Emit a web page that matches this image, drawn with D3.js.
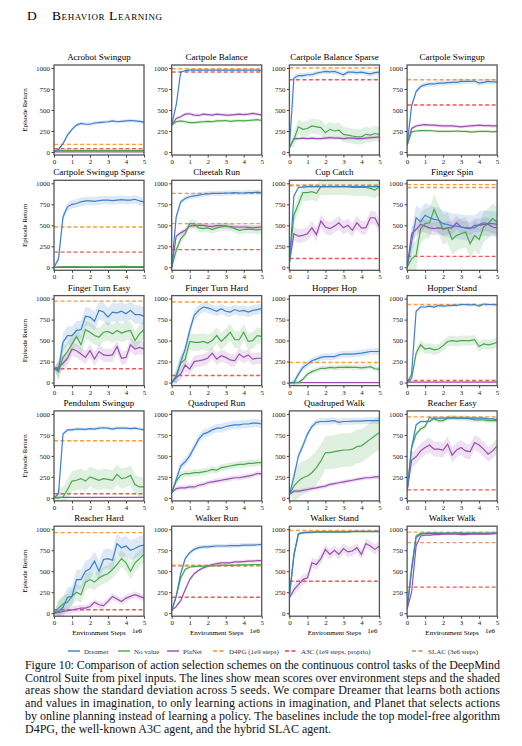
<!DOCTYPE html>
<html><head><meta charset="utf-8">
<script src="https://cdn.jsdelivr.net/npm/d3@7"></script>
<style>body{margin:0;background:#fff}svg text{font-family:"Liberation Serif",serif;font-weight:normal}</style>
</head><body><svg id="c" width="522" height="746" font-family="Liberation Serif"></svg>
<script>
const titles=["Acrobot Swingup","Cartpole Balance","Cartpole Balance Sparse","Cartpole Swingup","Cartpole Swingup Sparse","Cheetah Run","Cup Catch","Finger Spin","Finger Turn Easy","Finger Turn Hard","Hopper Hop","Hopper Stand","Pendulum Swingup","Quadruped Run","Quadruped Walk","Reacher Easy","Reacher Hard","Walker Run","Walker Stand","Walker Walk"];
const steps=[0,0.25,0.5,0.75,1,1.25,1.5,1.75,2,2.25,2.5,2.75,3,3.25,3.5,3.75,4,4.25,4.5,4.75,5];
const yTicks=[0,250,500,750,1000];
const xTicks=[0,1,2,3,4,5];
const dreamer=[
[0,30,100,200,270,320,340,330,330,345,350,355,360,370,360,365,370,375,370,365,355],
[320,560,950,970,975,975,975,975,975,975,975,975,975,975,975,975,975,975,975,975,970],
[50,880,910,910,920,920,940,950,960,955,960,940,920,950,950,945,950,940,930,945,950],
[80,550,720,780,800,810,810,820,820,825,830,830,840,840,840,845,820,830,840,835,835],
[0,100,600,720,750,760,780,790,790,785,795,800,800,795,800,805,800,800,810,790,780],
[0,600,780,820,840,850,860,870,875,880,880,880,885,885,890,885,885,890,890,895,890],
[50,850,950,955,960,960,960,960,960,960,960,960,960,960,960,960,960,960,960,960,960],
[0,300,590,540,620,590,570,560,520,510,490,490,480,470,470,470,510,530,520,520,510],
[170,150,480,560,560,620,630,790,780,730,860,840,780,840,830,850,820,860,810,810,790],
[0,70,250,400,620,800,860,900,890,870,850,880,850,840,870,850,860,840,860,870,880],
[0,0,100,180,220,260,280,300,310,310,310,330,340,340,340,345,350,360,370,370,370],
[0,100,850,900,900,910,900,920,910,915,920,920,930,930,925,930,910,935,930,930,925],
[0,50,760,810,810,820,820,815,825,820,830,835,830,820,830,830,830,825,830,820,810],
[60,220,380,430,500,600,700,760,780,810,830,830,850,860,870,870,880,880,890,890,880],
[40,250,500,620,760,850,900,910,910,915,920,900,910,910,915,915,915,920,920,920,920],
[80,600,870,910,910,910,950,950,950,950,950,950,950,950,950,950,950,950,940,940,930],
[0,20,70,190,200,400,400,500,530,620,500,640,650,630,830,780,800,750,770,800,810],
[30,200,470,650,720,760,780,790,790,795,800,800,800,805,805,805,810,810,810,815,820],
[200,700,950,960,965,965,970,970,970,970,970,970,970,970,975,975,975,975,975,975,975],
[50,500,900,940,950,950,950,950,950,950,950,955,950,950,950,950,950,950,950,955,955]];
const noValue=[
[20,20,20,20,20,20,20,20,20,20,20,20,20,20,20,20,20,20,20,20,20],
[320,360,370,360,350,350,355,360,365,360,370,370,375,365,370,375,370,375,380,385,375],
[50,150,300,270,280,310,300,290,230,270,250,260,210,200,190,180,180,210,200,220,210],
[80,240,250,255,255,255,250,245,245,245,245,250,245,245,240,240,245,245,245,240,245],
[0,5,8,8,8,8,6,5,5,5,5,6,8,8,8,10,10,8,8,8,8],
[0,200,340,400,520,520,470,460,470,450,470,480,490,480,460,440,450,455,450,445,450],
[50,620,750,890,890,900,880,960,960,960,960,960,960,960,950,950,950,950,940,920,960],
[0,100,140,460,520,530,690,570,450,470,330,380,400,420,280,380,330,480,520,580,540],
[170,130,300,370,460,550,450,630,600,560,540,600,610,580,620,590,610,620,500,580,630],
[0,80,230,280,490,480,480,490,470,500,560,490,540,600,510,510,600,490,500,560,550],
[0,0,0,40,100,130,150,170,170,180,175,180,180,185,180,180,175,180,190,165,160],
[0,50,350,450,400,410,390,400,440,490,500,490,500,500,500,510,430,460,450,460,480],
[0,0,10,100,200,210,230,200,250,230,210,230,220,210,280,230,240,270,160,130,130],
[60,200,270,290,290,300,300,310,320,340,330,360,370,380,390,400,400,410,410,420,420],
[40,140,200,240,260,300,360,440,540,540,550,560,570,570,580,610,620,660,700,740,780],
[80,600,760,820,850,960,940,920,920,950,960,950,950,950,940,930,930,930,920,920,920],
[0,60,110,130,200,250,220,370,400,370,420,450,470,520,580,650,600,500,600,650,700],
[30,200,420,520,550,555,560,560,560,565,565,570,570,570,570,575,575,575,580,580,575],
[200,680,940,955,960,960,965,965,965,965,965,965,965,965,970,970,970,970,970,970,970],
[50,550,920,950,950,955,955,955,950,955,955,955,955,950,955,955,955,950,950,955,950]];
const planet=[
[2,2,2,2,2,2,2,2,2,2,2,2,2,2,2,2,2,2,2,2,2],
[320,400,420,450,455,440,435,450,445,440,450,445,440,440,445,450,445,450,460,450,440],
[50,160,160,165,160,165,160,160,165,170,165,165,160,165,165,160,160,165,170,175,180],
[80,280,310,320,325,320,320,315,310,310,310,305,300,305,310,315,320,315,315,310,310],
[0,0,0,0,0,0,0,0,0,0,0,0,0,0,0,0,0,0,0,0,0],
[0,370,410,440,490,495,500,500,490,485,495,495,490,485,480,480,480,475,470,475,480],
[50,400,370,380,400,470,390,550,480,460,490,530,470,500,440,530,470,470,590,590,480],
[0,400,450,510,490,470,460,470,460,470,470,530,480,470,460,500,500,510,510,480,470],
[170,180,230,290,400,380,340,300,380,280,370,330,320,330,430,290,300,450,400,420,400],
[0,60,100,210,160,250,260,270,290,350,280,320,300,270,260,340,300,330,280,290,290],
[0,0,0,0,0,0,0,0,0,0,0,0,0,0,0,0,0,0,0,0,0],
[5,5,5,5,5,5,5,5,5,5,5,5,5,5,5,5,5,5,5,5,5],
[5,5,5,5,5,5,5,5,5,5,5,5,5,5,5,5,5,5,5,5,5],
[60,110,120,120,130,130,150,160,180,190,200,210,220,230,240,240,250,260,270,290,290],
[40,80,80,90,100,110,120,130,140,160,170,180,190,200,210,220,230,240,240,250,250],
[80,450,490,560,600,630,580,580,570,640,510,570,600,560,550,660,630,580,520,560,620],
[0,10,20,30,40,50,60,60,80,130,100,90,140,200,170,140,180,200,220,200,180],
[30,80,150,280,400,470,510,540,560,580,590,600,600,600,610,610,615,620,620,625,625],
[180,280,340,400,420,600,580,650,760,700,750,700,770,730,740,780,700,830,800,760,800],
[50,250,800,920,930,930,935,935,940,940,940,940,935,935,940,945,940,940,940,945,950]];
// standard deviation (one spread per panel per series)
const dreamerStd=[20,10,30,30,50,30,15,150,110,60,40,20,20,50,40,20,120,25,10,10];
const noValueStd=[5,20,90,15,8,50,100,180,110,100,30,60,120,40,200,30,100,15,10,10];
const planetStd=[2,20,20,20,2,30,80,80,80,70,2,5,5,30,25,90,40,20,60,10];
const d4pg=[90,992,1000,860,480,520,980,985,970,960,240,930,680,null,null,965,960,570,985,965];
const a3c=[40,952,860,560,180,210,105,130,165,85,null,25,50,null,null,95,40,190,380,310];
const slac=[null,null,null,null,null,880,970,950,null,null,null,null,null,null,null,null,null,560,null,840];
const caption=["Figure 10: Comparison of action selection schemes on the continuous control tasks of the DeepMind",
"Control Suite from pixel inputs. The lines show mean scores over environment steps and the shaded",
"areas show the standard deviation across 5 seeds.  We compare Dreamer that learns both actions",
"and values in imagination, to only learning actions in imagination, and Planet that selects actions",
"by online planning instead of learning a policy. The baselines include the top model-free algorithm",
"D4PG, the well-known A3C agent, and the hybrid SLAC agent."];

const C={dreamer:"#3b7fcc",noValue:"#46a84a",planet:"#9a4db3",d4pg:"#ff8c1a",a3c:"#ee3b3b",slac:"#c98a60"};
const svg=d3.select("#c");
svg.append("text").attr("x",27).attr("y",20).attr("font-size",13.5).text("D");
svg.append("text").attr("x",52).attr("y",20).attr("font-size",13.5).attr("font-variant","small-caps").attr("letter-spacing",0.6).text("Behavior Learning");

const W=90,H=90;
titles.forEach((t,i)=>{
  const col=i%4,row=Math.floor(i/4);
  const L=54+col*117.7,T=65+row*115.3;
  const g=svg.append("g").attr("transform",`translate(${L},${T})`);
  const x=d3.scaleLinear().domain([0,5]).range([0,W]);
  const y=d3.scaleLinear().domain([-36,1036]).range([H,0]);
  g.append("defs").append("clipPath").attr("id","cp"+i).append("rect").attr("width",W).attr("height",H);
  const p=g.append("g").attr("clip-path",`url(#cp${i})`);
  [[d4pg,C.d4pg],[a3c,C.a3c],[slac,C.slac]].forEach(([arr,c])=>{
    if(arr[i]==null)return;
    p.append("line").attr("x1",0).attr("x2",W).attr("y1",y(arr[i])).attr("y2",y(arr[i]))
      .attr("stroke",c).attr("stroke-width",1.4).attr("stroke-dasharray","4,2.5").attr("opacity",0.85);
  });
  [[planet,planetStd,C.planet],[noValue,noValueStd,C.noValue],[dreamer,dreamerStd,C.dreamer]].forEach(([m,s,c])=>{
    const v=m[i],sd=s[i];
    const area=d3.area().x((d,k)=>x(steps[k])).y0((d,k)=>y(d-(k==0?0:sd))).y1((d,k)=>y(d+(k==0?0:sd)));
    p.append("path").attr("d",area(v)).attr("fill",c).attr("opacity",0.17);
  });
  [[planet,C.planet],[noValue,C.noValue],[dreamer,C.dreamer]].forEach(([m,c])=>{
    const line=d3.line().x((d,k)=>x(steps[k])).y(d=>y(d));
    p.append("path").attr("d",line(m[i])).attr("fill","none").attr("stroke",c).attr("stroke-width",1.2);
  });
  g.append("rect").attr("width",W).attr("height",H).attr("fill","none").attr("stroke","#555").attr("stroke-width",1.3);
  const ya=g.append("g").call(d3.axisLeft(y).tickValues(yTicks).tickFormat(d3.format("d")).tickSize(2.5).tickPadding(1.5));
  const xa=g.append("g").attr("transform",`translate(0,${H})`).call(d3.axisBottom(x).tickValues(xTicks).tickFormat(d3.format("d")).tickSize(2.5).tickPadding(1.5));
  [ya,xa].forEach(a=>{a.attr("font-family","Liberation Serif");a.select(".domain").remove();a.selectAll("text").attr("font-size",7).attr("fill","#222");a.selectAll("line").attr("stroke","#444");});
  g.append("text").attr("x",W/2).attr("y",-5).attr("text-anchor","middle").attr("font-size",9).text(t);
  if(col==0)g.append("text").attr("transform",`translate(-27,${H/2}) rotate(-90)`).attr("text-anchor","middle").attr("font-size",7).text("Episode Return");
  if(row==4){
    g.append("text").attr("x",W/2).attr("y",H+19).attr("text-anchor","middle").attr("font-size",7).text("Environment Steps");
    g.append("text").attr("x",W-2).attr("y",H+17).attr("text-anchor","end").attr("font-size",7).text("1e6");
  }
});

const leg=[["Dreamer",C.dreamer,false,68],["No value",C.noValue,false,118],["PlaNet",C.planet,false,167],["D4PG (1e9 steps)",C.d4pg,true,213],["A3C (1e9 steps, proprio)",C.a3c,true,285],["SLAC (3e6 steps)",C.slac,true,412]];
leg.forEach(([t,c,dash,lx])=>{
  svg.append("line").attr("x1",lx).attr("x2",lx+12).attr("y1",651).attr("y2",651).attr("stroke",c).attr("stroke-width",1.4)
    .attr("stroke-dasharray",dash?"4,2.5":null);
  svg.append("text").attr("x",lx+16).attr("y",653.5).attr("font-size",7).attr("fill","#333").text(t);
});
caption.forEach((l,k)=>{
  const tx=svg.append("text").attr("x",25).attr("y",669+k*12.7).attr("font-size",12).attr("fill","#111").text(l);
  if(k<caption.length-1)tx.attr("textLength",475).attr("lengthAdjust","spacing");
});
</script></body></html>
